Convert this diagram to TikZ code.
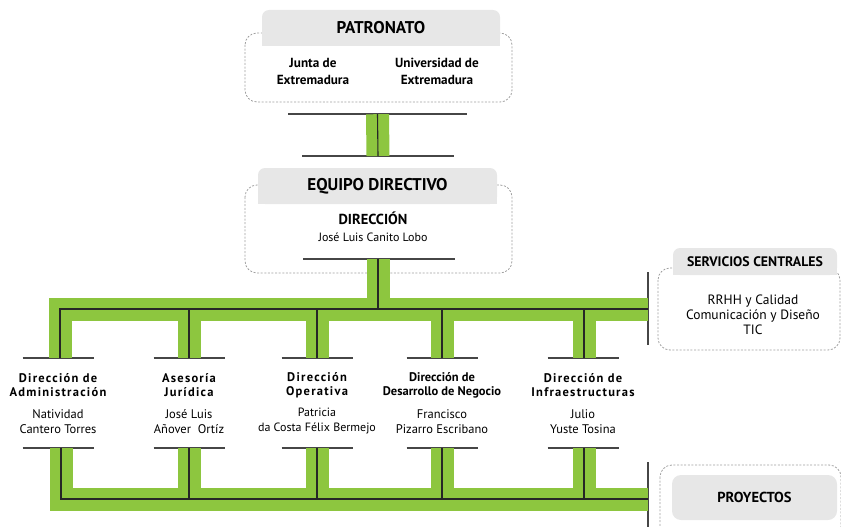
\documentclass[tikz,border=0pt]{standalone}
\usepackage{fontspec}
\setmainfont{PT Sans}
\usetikzlibrary{positioning,calc,backgrounds}
\definecolor{verde}{RGB}{141,198,63}
\definecolor{gris}{RGB}{231,231,231}
\definecolor{borde}{RGB}{160,160,160}
\definecolor{linea}{RGB}{70,70,70}
\tikzset{
    %Define style for grey headers
    cabecera/.style={
           fill=gris,
           rounded corners=7pt,
           inner sep=0pt,
           font=\bfseries\fontsize{17}{19}\selectfont},
    %Define style for dashed groups
    grupo/.style={
           draw=borde,
           dash pattern=on 2pt off 1.6pt,
           line width=0.8pt,
           rounded corners=12pt},
    % Define bar style
    barra/.style={
           draw=black!85,
           line width=1.1pt,
           preaction={draw=verde, line width=23pt}},
    raya/.style={draw=linea, line width=1.5pt}
}
\begin{document}
\begin{tikzpicture}[x=1pt,y=-1pt,
titulo/.style={align=center, inner sep=0pt, font=\bfseries\fontsize{12.5}{14}\selectfont\addfontfeature{LetterSpace=10}},
persona/.style={align=center, inner sep=0pt, font=\fontsize{12.5}{15}\selectfont},
texto/.style={align=center, inner sep=0pt, font=\fontsize{12}{17}\selectfont}
]
\useasboundingbox (0,0) rectangle (841,527);
%Headers
\node[cabecera, minimum width=238pt, minimum height=36pt] (patronato) at (381,28) {PATRONATO};
\node[cabecera, minimum width=239pt, minimum height=36pt] (equipo) at (377.5,186) {EQUIPO DIRECTIVO};
\node[cabecera, minimum width=164pt, minimum height=27pt, font=\bfseries\fontsize{13.8}{15}\selectfont] (servicios) at (755,261.5) {SERVICIOS CENTRALES};
\node[cabecera, minimum width=165pt, minimum height=45pt, rounded corners=9pt, font=\bfseries\fontsize{14.5}{16}\selectfont] (proyectos) at (754.5,497.5) {PROYECTOS};
%Groups
\begin{scope}[on background layer]
\draw[grupo] (245,33) rectangle (512,102);
\draw[grupo] (245,185) rectangle (512,273);
\draw[grupo] (658,268) rectangle (840,350);
\draw[grupo] (660,465) rectangle (841,545);
\fill[gris] (patronato.west) rectangle (patronato.south east);
\fill[gris] (equipo.west) rectangle (equipo.south east);
\fill[gris] (servicios.west) rectangle (servicios.south east);
\end{scope}
%Nodes
\node[texto, font=\bfseries\fontsize{13.2}{17}\selectfont] (junta) at (313,71.5) {Junta de\\Extremadura};
\node[texto, font=\bfseries\fontsize{13.2}{17}\selectfont] (uex) at (437,71.5) {Universidad de\\Extremadura};
\node[texto, font=\bfseries\fontsize{14.5}{16}\selectfont] (direccion) at (373,218) {DIRECCIÓN};
\node[texto] (director) [below=8pt of direccion] {José Luis Canito Lobo};
\node[texto, font=\fontsize{13.5}{15}\selectfont] (rrhh) at (753,315) {RRHH y Calidad\\Comunicación y Diseño\\TIC};
\node[titulo] (adm) at (58,385) {Dirección de\\Administración};
\node[persona] (admp) at (58,421.5) {Natividad\\Cantero Torres};
\node[titulo] (jur) at (189,385) {Asesoría\\Jurídica};
\node[persona] (jurp) at (189,421.5) {José Luis\\Añover~~Ortíz};
\node[titulo] (ope) at (317,385) {Dirección\\Operativa};
\node[persona, font=\fontsize{12}{15}\selectfont] (opep) at (317,421.5) {Patricia\\da Costa Félix Bermejo};
\node[titulo, font=\bfseries\fontsize{12.5}{14}\selectfont] (neg) at (442,385) {Dirección de\\Desarrollo de Negocio};
\node[persona] (negp) at (442,421.5) {Francisco\\Pizarro Escribano};
\node[titulo] (inf) at (583,385) {Dirección de\\Infraestructuras};
\node[persona] (infp) at (583,421.5) {Julio\\Yuste Tosina};
%Rules
\draw[raya] (288,114) -- (467,114);
\draw[raya] (302,156) -- (454,156);
\draw[raya] (303,259) -- (455,259);
\draw[raya] (648,272) -- (648,345);
\draw[raya] (648,462) -- (648,527);
\foreach \n in {adm,jur,ope,neg,inf}{
  \draw[raya] ($(\n)+(-35.5,-27)$) -- ($(\n)+(35.5,-27)$);
  \draw[raya] ($(\n)+(-35.5,63)$) -- ($(\n)+(35.5,63)$);
}
%Bars
\draw[barra] (patronato.south -| equipo) ++(0,68) -- (378,156);
\draw[barra] (378,259) -- (378,309)
  (60,358) |- (648,309)
  (189,309) -- (189,358) (317,309) -- (317,358)
  (442,309) -- (442,358) (584,309) -- (584,358);
\draw[barra] (61,448) |- (648,499)
  (189,448) -- (189,499) (317,448) -- (317,499)
  (442,448) -- (442,499) (584,448) -- (584,499);
\end{tikzpicture}
\end{document}
